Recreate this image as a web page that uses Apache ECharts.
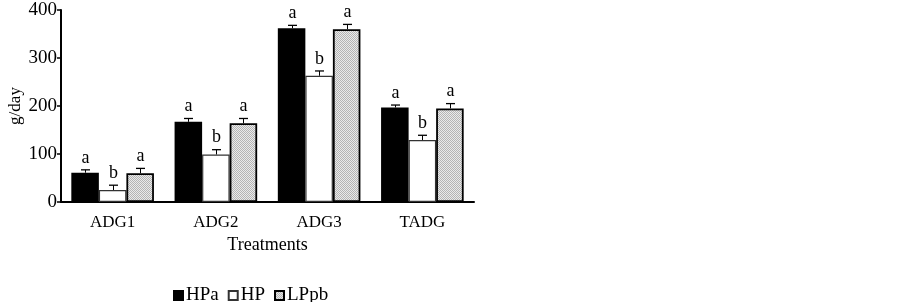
<!DOCTYPE html><html><head><meta charset="utf-8">
<script src="https://cdn.jsdelivr.net/npm/echarts@6/dist/echarts.min.js"></script>
<style>html,body{margin:0;background:#fff}#c{width:903px;height:302px}</style></head><body><div id="c"></div><script>
const categories=['ADG1','ADG2','ADG3','TADG'];
const seriesNames=['HPa','HP','LPpb'];
const hpa=[61,167,362,197];
const hp=[25,99,263,129];
const lppb=[60,164,360,195];
const hpaErr=[6,7,6,5];
const hpErr=[10,10,10,10];
const lppbErr=[10,10,10,10];
const hpaLetters=['a','a','a','a'];
const hpLetters=['b','b','b','b'];
const lppbLetters=['a','a','a','a'];
const yTicks=[0,100,200,300,400];

const FONT='"Liberation Serif","Times New Roman",serif';
// dotted pattern for LPpb
const pc=document.createElement('canvas');pc.width=2;pc.height=2;
const g=pc.getContext('2d');g.fillStyle='#eaeaea';g.fillRect(0,0,2,2);g.fillStyle='#b4b4b4';g.fillRect(0,0,1,1);g.fillRect(1,1,1,1);
const pattern={image:pc,repeat:'repeat'};

const vals=[hpa,hp,lppb], errs=[hpaErr,hpErr,lppbErr], letters=[hpaLetters,hpLetters,lppbLetters];
const fills=['#000','#fff',pattern];
const borders=[['#000',1.8],['#333',1.2],['#000',1.8]];
const barSeries=seriesNames.map((n,s)=>({
  name:n,type:'bar',data:vals[s],barGap:'0%',barCategoryGap:'20%',
  itemStyle:{color:fills[s],borderColor:borders[s][0],borderWidth:borders[s][1]},
  emphasis:{disabled:true}
}));
const errSeries=seriesNames.map((n,s)=>({
  type:'custom',z:5,
  data:categories.map((c,i)=>[i,vals[s][i],errs[s][i]]),
  renderItem(params,api){
    const idx=api.value(0),v=api.value(1),e=api.value(2);
    const base=api.coord([idx,v]),top=api.coord([idx,v+e]);
    const band=api.size([1,0])[0];const bw=band*0.8/3;
    const x=Math.round(base[0]+(s-1)*bw)+0.5;
    return {type:'group',children:[
      {type:'line',shape:{x1:x,y1:base[1],x2:x,y2:top[1]},style:{stroke:'#000',lineWidth:1}},
      {type:'line',shape:{x1:x-4.5,y1:top[1],x2:x+4.5,y2:top[1]},style:{stroke:'#000',lineWidth:1.3}},
      {type:'text',x:x,y:top[1]-3,style:{text:letters[s][params.dataIndex],textAlign:'center',textVerticalAlign:'bottom',font:'18px '+FONT,fill:'#000'}}
    ]};
  }
}));
const chart=echarts.init(document.getElementById('c'));
chart.setOption({
  animation:false,
  grid:{left:61,right:429,top:10,bottom:100},
  legend:{data:seriesNames,left:168,top:281,icon:'rect',itemWidth:9,itemHeight:9,itemGap:9,
    textStyle:{fontFamily:FONT,fontSize:19,color:'#000',padding:[0,0,0,-2]}},
  xAxis:[{type:'category',data:categories,
    axisLine:{lineStyle:{color:'#000',width:2}},
    axisTick:{length:5,lineStyle:{color:'#000',width:1.5}},
    axisLabel:{color:'#000',fontFamily:FONT,fontSize:17,margin:12},
    name:'Treatments',nameLocation:'middle',nameGap:34,
    nameTextStyle:{color:'#000',fontFamily:FONT,fontSize:18}},
   {type:'category',data:categories,position:'bottom',offset:0,
    axisLine:{show:false},axisTick:{inside:true,length:5,lineStyle:{color:'#000',width:1.5}},
    axisLabel:{show:false}}],
  yAxis:{type:'value',min:yTicks[0],max:yTicks[yTicks.length-1],interval:100,
    axisLine:{show:true,lineStyle:{color:'#000',width:2}},
    axisTick:{show:true,length:4,lineStyle:{color:'#000',width:1.5}},
    splitLine:{show:false},
    axisLabel:{color:'#000',fontFamily:FONT,fontSize:19,margin:4},
    name:'g/day',nameLocation:'middle',nameGap:37,nameRotate:90,
    nameTextStyle:{color:'#000',fontFamily:FONT,fontSize:17}},
  series:[...barSeries,...errSeries]
});
</script></body></html>
